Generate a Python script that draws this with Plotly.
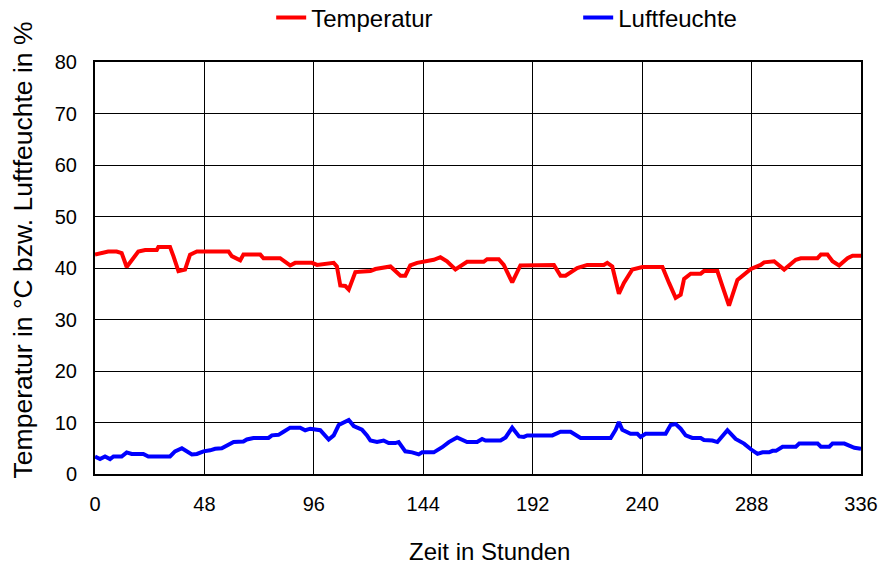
import plotly.graph_objects as go

# Temperatur (hours, °C)
temp_h = [0, 2.2, 5.8, 9.5, 11.7, 13.9, 16.1, 19, 22, 27.1, 27.8, 32.9, 34.4, 36.6, 39.5, 41.7,
          44.7, 58.6, 60, 63.7, 65.1, 72.5, 73.9, 81.2, 85.6, 87.8, 95.2, 97.4, 104.7, 106.1,
          107.6, 109.8, 111.3, 114.2, 120.8, 123, 129.6, 134, 136.1, 138.3, 141.3, 144.2, 148.6,
          151.5, 154.4, 158.1, 160.3, 163.2, 169.1, 170.5, 172, 177.1, 179.3, 183, 186.6, 201.3,
          204.2, 206.4, 211.5, 215.9, 223.2, 224.7, 226.9, 229.8, 232, 235.7, 240.1, 248.9,
          251.8, 254.7, 256.9, 258.4, 261.3, 265.7, 267.1, 273, 275.2, 278.1, 281.8, 287.7,
          292, 293.5, 297.9, 302.3, 307.4, 309.6, 316.9, 318.4, 321.3, 323.5, 326.4, 330.1,
          332.3, 336]
temp_v = [42.6, 42.8, 43.2, 43.2, 42.9, 40.2, 41.6, 43.2, 43.5, 43.5, 44.1, 44.1, 42.3, 39.4, 39.7, 42.6,
          43.2, 43.2, 42.3, 41.5, 42.6, 42.6, 41.9, 41.9, 40.5, 41.0, 41.0, 40.6, 41.0, 40.3,
          36.6, 36.5, 35.8, 39.2, 39.4, 39.8, 40.3, 38.5, 38.5, 40.5, 41.0, 41.2, 41.6,
          42.1, 41.3, 39.7, 40.3, 41.2, 41.2, 41.2, 41.7, 41.7, 40.6, 37.2, 40.5, 40.6,
          38.5, 38.5, 40.0, 40.6, 40.6, 41.0, 40.3, 35.0, 37.1, 39.7, 40.2, 40.2,
          37.1, 34.2, 34.8, 37.9, 38.9, 38.9, 39.4, 39.4, 36.5, 32.7, 37.7, 39.8,
          40.6, 41.1, 41.3, 39.7, 41.6, 41.9, 41.9, 42.6, 42.6, 41.3, 40.5, 41.9,
          42.4, 42.4]

# Luftfeuchte (hours, %)
hum_h = [0, 2.2, 4.4, 6.6, 8.1, 11.7, 13.9, 16.1, 21.2, 23.4, 32.9, 35.1, 38.1, 42.5, 44.7, 47.6,
         50.5, 52.7, 55.6, 57.8, 60.8, 65.1, 66.6, 69.5, 76.1, 77.6, 80.5, 82.7, 85.6, 90, 92.2,
         94.4, 98.8, 102.5, 104.7, 106.9, 109.1, 111.3, 113.5, 117.1, 119.3, 120.8, 123.7,
         126.6, 128.8, 131.7, 133.2, 136.1, 139.1, 142, 143.5, 148.6, 152.3, 155.2, 158.8,
         163.2, 167.6, 169.8, 171.3, 177.9, 180.1, 183, 186, 188.1, 189.6, 200.6, 204.2, 208.6,
         213, 226.2, 228.4, 229.8, 231.3, 234.9, 237.9, 239.3, 241.5, 250.3, 252.5, 254.7,
         256.9, 259.1, 262, 265.7, 267.1, 270.8, 273, 277.4, 281, 284.7, 287.7, 290.6, 292.8,
         295.7, 297.2, 298.7, 301.6, 307.4, 308.9, 317, 318.4, 322.1, 323.5, 328.7, 333.1, 336]
hum_v = [3.4, 2.9, 3.4, 2.9, 3.4, 3.4, 4.2, 3.9, 3.9, 3.4, 3.4, 4.4, 5.0, 3.8, 3.9, 4.4,
         4.6, 4.9, 5.0, 5.6, 6.2, 6.3, 6.7, 7.0, 7.0, 7.5, 7.6, 8.2, 9.0, 9.0, 8.5,
         8.8, 8.5, 6.7, 7.5, 9.5, 9.9, 10.5, 9.3, 8.6, 7.5, 6.5, 6.2,
         6.5, 6.0, 6.0, 6.2, 4.4, 4.2, 3.8, 4.2, 4.2, 5.2, 6.2, 7.1,
         6.2, 6.2, 6.8, 6.5, 6.5, 7.1, 9.0, 7.3, 7.2, 7.5, 7.5, 8.2, 8.2,
         7.0, 7.0, 8.6, 10.1, 8.6, 7.8, 7.8, 7.2, 7.8, 7.8, 9.5, 9.7,
         8.8, 7.5, 7.0, 7.0, 6.6, 6.5, 6.2, 8.5, 6.8, 5.9, 4.8, 3.9, 4.2,
         4.2, 4.5, 4.5, 5.3, 5.3, 5.9, 5.9, 5.3, 5.3, 5.9, 5.9, 5.1, 4.9]

x_ticks = [0, 48, 96, 144, 192, 240, 288, 336]
y_ticks = [0, 10, 20, 30, 40, 50, 60, 70, 80]
x_title = "Zeit in Stunden"
y_title = "Temperatur in °C bzw. Luftfeuchte in %"

FONT = "Liberation Sans, Arial, sans-serif"

fig = go.Figure()
fig.add_trace(go.Scatter(x=temp_h, y=temp_v, mode="lines", name="Temperatur",
                         line=dict(color="#FF0000", width=4)))
fig.add_trace(go.Scatter(x=hum_h, y=hum_v, mode="lines", name="Luftfeuchte",
                         line=dict(color="#0000FF", width=4)))

fig.update_layout(
    width=880, height=565,
    margin=dict(l=94.5, r=19, t=62, b=91, autoexpand=False),
    paper_bgcolor="white", plot_bgcolor="white",
    font=dict(family=FONT, color="black", size=20),
    showlegend=True,
    legend=dict(orientation="h", x=0.23, xanchor="left", y=1.107, yanchor="middle",
                font=dict(size=24), entrywidth=262, entrywidthmode="pixels",
                bgcolor="rgba(0,0,0,0)"),
    xaxis=dict(range=[0, 336], tickmode="array", tickvals=x_ticks,
               ticktext=[str(v) for v in x_ticks],
               showgrid=True, gridcolor="black", gridwidth=1,
               showline=True, linecolor="black", linewidth=2, mirror=True,
               zeroline=False, ticks="", ticklabelstandoff=11),
    yaxis=dict(range=[0, 80], tickmode="array", tickvals=y_ticks,
               ticktext=[str(v) for v in y_ticks],
               showgrid=True, gridcolor="black", gridwidth=1,
               showline=True, linecolor="black", linewidth=2, mirror=True,
               zeroline=False, ticks="", ticklabelstandoff=12),
    annotations=[
        dict(text=x_title, xref="paper", yref="paper", x=0.515, y=-0.187,
             xanchor="center", yanchor="middle", showarrow=False, font=dict(size=24)),
        dict(text=y_title, xref="paper", yref="paper", x=-0.0946, y=0.544,
             xanchor="center", yanchor="middle", textangle=-90, showarrow=False,
             font=dict(size=26.5)),
    ],
)

fig.write_html("out.html",
               config={"displayModeBar": False},
               post_script="document.body.style.margin='0';"
                           "document.body.style.overflow='hidden';")
